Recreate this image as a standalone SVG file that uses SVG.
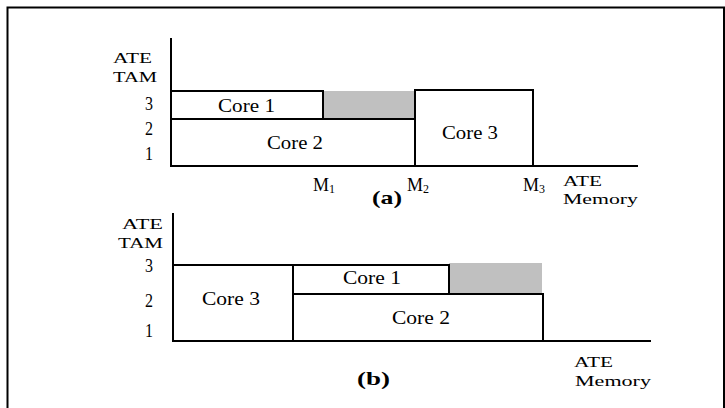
<svg xmlns="http://www.w3.org/2000/svg" width="725" height="408" viewBox="0 0 725 408">
<style>
.t{font-family:"Liberation Serif","Times New Roman",serif;font-size:18px;fill:#000}
.s{font-size:15.5px}
.b{font-weight:bold;font-size:19px}
.ln{stroke:#000;stroke-width:2;fill:none}
.box{stroke:#000;stroke-width:2;fill:#fff}
.gray{fill:#c0c0c0;stroke:none}
</style>
<rect width="725" height="408" fill="#fff"/>
<path class="ln" d="M7.5,408 V7.5 H724 V408"/>
<g id="chart-a">
  <g id="a-axes">
    <path class="ln" d="M171,38 V166 H638"/>
  </g>
  <rect id="a-gap" class="gray" x="323" y="91" width="92" height="28"/>
  <g id="a-core1"><rect class="box" x="171" y="91" width="152" height="28"/><text class="t" x="218" y="112" textLength="57" lengthAdjust="spacingAndGlyphs">Core 1</text></g>
  <g id="a-core2"><rect class="box" x="171" y="119" width="244" height="47"/><text class="t" x="267" y="149" textLength="56" lengthAdjust="spacingAndGlyphs">Core 2</text></g>
  <g id="a-core3"><rect class="box" x="415" y="90" width="118" height="76"/><text class="t" x="442" y="139" textLength="56" lengthAdjust="spacingAndGlyphs">Core 3</text></g>
  <g id="a-labels">
    <text class="t s" x="113" y="63" textLength="39" lengthAdjust="spacingAndGlyphs">ATE</text>
    <text class="t s" x="113" y="82" textLength="44" lengthAdjust="spacingAndGlyphs">TAM</text>
    <text class="t" x="145" y="110" textLength="8" lengthAdjust="spacingAndGlyphs">3</text>
    <text class="t" x="145" y="135" textLength="8" lengthAdjust="spacingAndGlyphs">2</text>
    <text class="t" x="145" y="160" textLength="8" lengthAdjust="spacingAndGlyphs">1</text>
    <text class="t" x="313" y="191">M<tspan font-size="12" dy="2">1</tspan></text>
    <text class="t" x="407" y="191">M<tspan font-size="12" dy="2">2</tspan></text>
    <text class="t" x="523" y="191">M<tspan font-size="12" dy="2">3</tspan></text>
    <text class="t s" x="563" y="186" textLength="39" lengthAdjust="spacingAndGlyphs">ATE</text>
    <text class="t s" x="563" y="204" textLength="75" lengthAdjust="spacingAndGlyphs">Memory</text>
    <text class="t b" x="372" y="204" textLength="30" lengthAdjust="spacingAndGlyphs">(a)</text>
  </g>
</g>
<g id="chart-b">
  <g id="b-axes">
    <path class="ln" d="M173,213 V341 H651"/>
  </g>
  <rect id="b-gap" class="gray" x="449" y="263" width="93" height="31"/>
  <g id="b-core3"><rect class="box" x="173" y="265" width="120" height="76"/><text class="t" x="202" y="305" textLength="58" lengthAdjust="spacingAndGlyphs">Core 3</text></g>
  <g id="b-core1"><rect class="box" x="293" y="265" width="156" height="29"/><text class="t" x="343" y="284" textLength="58" lengthAdjust="spacingAndGlyphs">Core 1</text></g>
  <g id="b-core2"><rect class="box" x="293" y="294" width="250" height="47"/><text class="t" x="392" y="324" textLength="58" lengthAdjust="spacingAndGlyphs">Core 2</text></g>
  <g id="b-labels">
    <text class="t s" x="122" y="229" textLength="41" lengthAdjust="spacingAndGlyphs">ATE</text>
    <text class="t s" x="118" y="248" textLength="45" lengthAdjust="spacingAndGlyphs">TAM</text>
    <text class="t" x="145" y="272" textLength="8" lengthAdjust="spacingAndGlyphs">3</text>
    <text class="t" x="145" y="307" textLength="8" lengthAdjust="spacingAndGlyphs">2</text>
    <text class="t" x="145" y="337" textLength="8" lengthAdjust="spacingAndGlyphs">1</text>
    <text class="t s" x="574" y="367" textLength="39" lengthAdjust="spacingAndGlyphs">ATE</text>
    <text class="t s" x="575" y="386" textLength="76" lengthAdjust="spacingAndGlyphs">Memory</text>
    <text class="t b" x="357" y="385" textLength="33" lengthAdjust="spacingAndGlyphs">(b)</text>
  </g>
</g>
</svg>
